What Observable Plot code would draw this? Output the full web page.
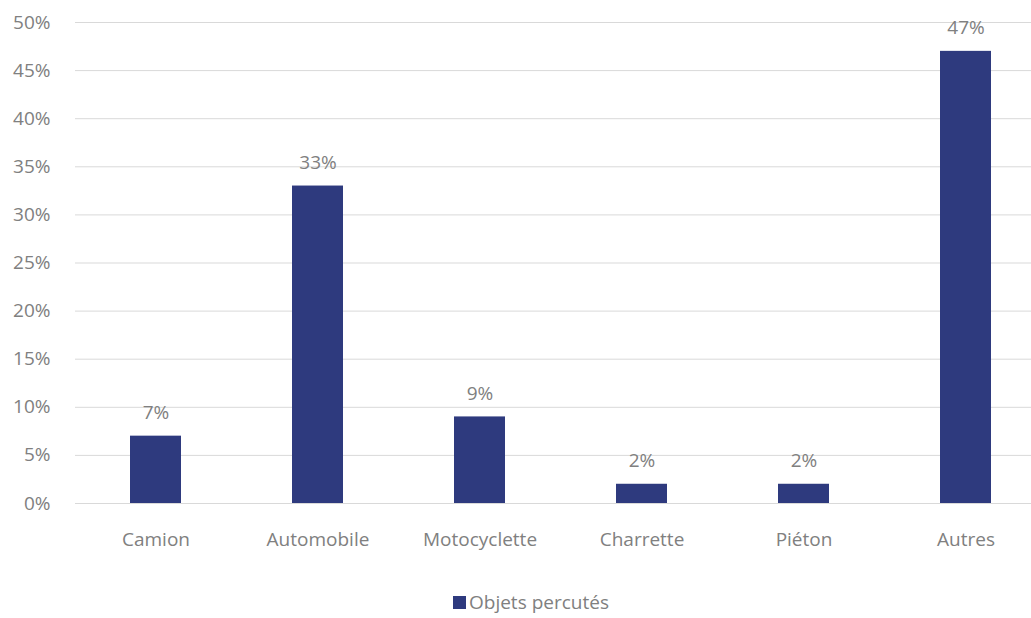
<!DOCTYPE html>
<html>
<head>
<meta charset="utf-8">
<script src="https://cdn.jsdelivr.net/npm/d3@7"></script>
<script src="https://cdn.jsdelivr.net/npm/@observablehq/plot@0.6"></script>
<style>
  html, body { margin: 0; padding: 0; background: #fff; overflow: hidden; }
  #chart { position: relative; width: 1031px; height: 618px; }
  .legend {
    position: absolute; left: 453px; top: 590px;
    font-family: "Open Sans", sans-serif; font-size: 19px; color: #808080;
    display: flex; align-items: center; gap: 3px; line-height: 24px;
  }
  .legend .swatch { width: 13px; height: 13px; background: #2e3a7e; display: inline-block; }
</style>
</head>
<body>
<div id="chart"></div>
<script>
// Objets percutés, share of cases by category
const categories = ["Camion", "Automobile", "Motocyclette", "Charrette", "Piéton", "Autres"];
const shares = [7, 33, 9, 2, 2, 47];
const yTicks = [0, 5, 10, 15, 20, 25, 30, 35, 40, 45, 50];
const seriesName = "Objets percutés";

const data = categories.map((c, i) => ({category: c, value: shares[i]}));
const barColor = "#2e3a7e";
const textColor = "#808080";
const font = "'Open Sans', sans-serif";

const chart = Plot.plot({
  width: 1031,
  height: 580,
  marginLeft: 75,
  marginRight: 0,
  marginTop: 22,
  marginBottom: 77,
  style: {fontFamily: font, fontSize: "19px", color: textColor, background: "transparent"},
  x: {domain: categories, range: [72, 1049], paddingInner: 0.687, paddingOuter: 0.3435, align: 0.5, label: null},
  y: {domain: [0, 50], label: null},
  marks: [
    Plot.ruleY(yTicks, {stroke: "#d9d9d9", strokeWidth: 1}),
    Plot.barY(data, {x: "category", y: "value", fill: barColor}),
    Plot.text(data, {
      x: "category", y: "value", text: d => d.value + "%",
      dy: -23, fill: textColor, fontSize: 19, lineAnchor: "middle"
    }),
    Plot.axisY({ticks: yTicks, tickFormat: d => d + "%", tickSize: 0, tickPadding: 25, fill: textColor, fontSize: 19}),
    Plot.axisX({tickSize: 0, tickPadding: 29, fill: textColor, fontSize: 19})
  ]
});

const root = document.getElementById("chart");
root.appendChild(chart);
const legend = document.createElement("div");
legend.className = "legend";
legend.innerHTML = `<span class="swatch"></span><span>${seriesName}</span>`;
root.appendChild(legend);
</script>
</body>
</html>
